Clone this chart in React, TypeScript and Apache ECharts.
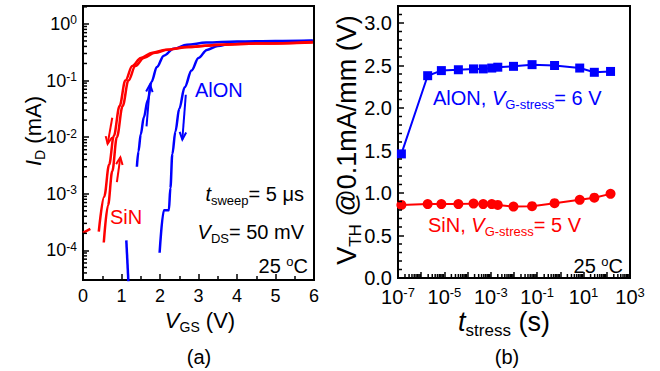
import React, { useEffect, useRef } from 'react';
import * as echarts from 'echarts';

const FONT = 'Liberation Sans, Arial, Helvetica, sans-serif';
const SERIF = 'Liberation Serif, Times New Roman, serif';
const RED = '#ff0000';
const BLUE = '#0000ff';
const BLACK = '#000000';

// ---------- Panel (a): I_D – V_GS ----------
const vgsRange = [0, 6];
const idRange = [3.0e-5, 2.07]; // mA (log axis limits)

// SiN, two sweeps
const sinSweep1V = [0.41, 0.55, 0.68, 0.8, 0.95, 1.1, 1.28, 1.5, 1.8, 2.15, 2.7, 3.6, 4.6, 5.97];
const sinSweep1I = [2.14e-4, 8.9e-4, 3.3e-3, 1.05e-2, 3.55e-2, 0.1, 0.18, 0.25, 0.31, 0.35, 0.39, 0.43, 0.45, 0.47];
const sinSweep2V = [0.54, 0.65, 0.76, 0.88, 1.03, 1.18, 1.36, 1.58, 1.87, 2.2, 2.75, 3.6, 4.6, 5.97];
const sinSweep2I = [1.38e-4, 6.3e-4, 2.5e-3, 1.0e-2, 3.55e-2, 0.1, 0.18, 0.25, 0.31, 0.35, 0.39, 0.43, 0.45, 0.48];
const sinTailV = [0.0, 0.19];
const sinTailI = [2.04e-4, 2.4e-4];

// AlON, up and down sweeps
const alonUpV = [1.4, 1.44, 1.5, 1.58, 1.68, 1.78, 1.92, 2.1, 2.35, 2.7, 3.2, 4.0, 5.0, 5.97];
const alonUpI = [3.0e-3, 5.6e-3, 1.12e-2, 2.24e-2, 4.47e-2, 9.5e-2, 0.174, 0.275, 0.363, 0.427, 0.468, 0.49, 0.5, 0.51];
const alonDownV = [1.99, 2.1, 2.23, 2.27, 2.32, 2.4, 2.5, 2.64, 2.82, 3.0, 3.22, 3.5, 3.85, 4.5, 5.2, 5.97];
const alonDownI = [9.1e-5, 5.1e-4, 5.1e-4, 1.26e-3, 5.0e-3, 1.26e-2, 3.16e-2, 7.6e-2, 0.151, 0.251, 0.347, 0.407, 0.447, 0.468, 0.49, 0.5];
const alonTailV = [1.125, 1.19];
const alonTailI = [1.5e-4, 2.0e-5];

// sweep-direction arrows: [V start, V end], [I start, I end]
const sinArrowDownV = [0.76, 0.64];
const sinArrowDownI = [2.2e-2, 7.6e-3];
const sinArrowUpV = [0.88, 0.97];
const sinArrowUpI = [1.6e-3, 4.4e-3];
const alonArrowUpV = [1.65, 1.74];
const alonArrowUpI = [1.55e-2, 8.5e-2];
const alonArrowDownV = [2.67, 2.58];
const alonArrowDownI = [5.6e-2, 9.1e-3];

// ---------- Panel (b): V_TH – t_stress ----------
const tStressRange = [1e-7, 1e3];
const vthRange = [0, 3.2];
const stressTime = [1.4e-7, 1.9e-6, 7.4e-6, 4.0e-5, 1.8e-4, 4.7e-4, 1.1e-3, 2.0e-3, 9.5e-3, 6.0e-2, 0.56, 6.8, 29, 145];
const vthAlON = [1.46, 2.38, 2.44, 2.45, 2.46, 2.46, 2.47, 2.48, 2.49, 2.51, 2.5, 2.47, 2.42, 2.43];
const vthSiN = [0.86, 0.87, 0.87, 0.87, 0.875, 0.87, 0.87, 0.86, 0.84, 0.845, 0.88, 0.92, 0.945, 0.99];

const lg = (v: number) => Math.log10(v);

const logMinor = (lo: number, hi: number) => {
  const out: number[] = [];
  for (let e = Math.floor(lo) - 1; e <= Math.ceil(hi); e++) {
    for (let k = 2; k <= 9; k++) {
      const v = e + Math.log10(k);
      if (v > lo + 1e-6 && v < hi - 1e-6) out.push(v);
    }
  }
  return out;
};

const tok = (size: number, extra: any = {}) => ({ fontSize: size, fontFamily: FONT, ...extra });

const tickLine = { color: BLACK, width: 1.5 };

export default function App() {
  const ref = useRef<HTMLDivElement>(null);

  useEffect(() => {
    if (!ref.current) return;
    const chart = echarts.init(ref.current, undefined, { renderer: 'svg' });

    const aYmin = lg(idRange[0]);
    const aYmax = lg(idRange[1]);
    const bXmin = lg(tStressRange[0]);
    const bXmax = lg(tStressRange[1]);

    const curve = (v: number[], i: number[], color: string) => ({
      type: 'line',
      xAxisIndex: 0,
      yAxisIndex: 0,
      data: v.map((x, k) => [x, lg(i[k])]),
      symbol: 'none',
      showSymbol: false,
      smooth: 0.35,
      smoothMonotone: 'x',
      lineStyle: { color, width: 2.5 },
      clip: true,
      z: 3,
      silent: true,
    });

    const arrows = (list: { v: number[]; i: number[] }[], color: string) => ({
      type: 'custom',
      xAxisIndex: 0,
      yAxisIndex: 0,
      silent: true,
      z: 4,
      data: list.map((a) => [a.v[0], lg(a.i[0]), a.v[1], lg(a.i[1])]),
      renderItem: (_p: any, api: any) => {
        const p0 = api.coord([api.value(0), api.value(1)]);
        const p1 = api.coord([api.value(2), api.value(3)]);
        const ang = Math.atan2(p1[1] - p0[1], p1[0] - p0[0]);
        const L = 8;
        const w = 0.42;
        const h1 = [p1[0] - L * Math.cos(ang - w), p1[1] - L * Math.sin(ang - w)];
        const h2 = [p1[0] - L * Math.cos(ang + w), p1[1] - L * Math.sin(ang + w)];
        return {
          type: 'group',
          children: [
            { type: 'line', shape: { x1: p0[0], y1: p0[1], x2: p1[0], y2: p1[1] }, style: { stroke: color, lineWidth: 2 } },
            { type: 'polyline', shape: { points: [h1, p1, h2] }, style: { stroke: color, lineWidth: 2, fill: 'none' } },
          ],
        };
      },
    });

    const minorTicks = (xi: number, values: number[], dir: 'x' | 'y', base: number, len: number) => ({
      type: 'custom',
      xAxisIndex: xi,
      yAxisIndex: xi,
      silent: true,
      z: 5,
      data: values.map((v) => (dir === 'y' ? [base, v] : [v, base])),
      renderItem: (_p: any, api: any) => {
        const p = api.coord([api.value(0), api.value(1)]);
        const shape = dir === 'y'
          ? { x1: p[0], y1: p[1], x2: p[0] + len, y2: p[1] }
          : { x1: p[0], y1: p[1], x2: p[0], y2: p[1] - len };
        return {
          type: 'group',
          children: [{ type: 'line', shape, style: { stroke: BLACK, lineWidth: 1.5 } }],
        };
      },
    });

    const bYMinor: number[] = [];
    for (let k = 1; k <= 31; k++) if (k % 5 !== 0) bYMinor.push(k / 10);

    const powLabel = {
      b: { fontSize: 18, fontFamily: FONT, color: BLACK },
      s: { fontSize: 12, fontFamily: FONT, color: BLACK, padding: [0, 0, 7, 0] },
    };
    const powLabelB = {
      b: { fontSize: 20, fontFamily: FONT, color: BLACK },
      s: { fontSize: 13, fontFamily: FONT, color: BLACK, padding: [0, 0, 8, 0] },
    };

    const isInt = (v: number) => Math.abs(v - Math.round(v)) < 1e-6;

    const text = (x: number, y: number, str: string, rich: any, fill: string, align = 'left', rotation = 0) => ({
      type: 'text',
      x,
      y,
      rotation,
      silent: true,
      style: { text: str, rich, fill, align, verticalAlign: 'middle', fontFamily: FONT, fontSize: 20 },
    });

    const rA = {
      n: tok(20),
      i: tok(20, { fontStyle: 'italic' }),
      sub: tok(13, { padding: [13, 0, 0, 0] }),
      sup: tok(13, { padding: [0, 0, 10, 0] }),
    };
    const rT = {
      n: tok(22),
      i: tok(22, { fontStyle: 'italic' }),
      sub: tok(14, { padding: [14, 0, 0, 0] }),
    };
    const rB = {
      n: tok(27),
      i: tok(27, { fontStyle: 'italic' }),
      sub: tok(17, { padding: [17, 0, 0, 0] }),
    };

    const noLine = { show: false, onZero: false };

    chart.setOption({
      animation: false,
      backgroundColor: '#ffffff',
      grid: [
        { left: 83, top: 6, width: 231, height: 274, show: true, borderColor: BLACK, borderWidth: 2, backgroundColor: 'transparent' },
        { left: 398, top: 6, width: 232, height: 272, show: true, borderColor: BLACK, borderWidth: 2, backgroundColor: 'transparent' },
      ],
      xAxis: [
        {
          gridIndex: 0, type: 'value', min: vgsRange[0], max: vgsRange[1], interval: 1, position: 'bottom',
          axisLine: noLine,
          axisTick: { inside: true, length: 6, lineStyle: tickLine },
          minorTick: { show: true, splitNumber: 2, length: 4, lineStyle: tickLine },
          splitLine: { show: false }, minorSplitLine: { show: false },
          axisLabel: { color: BLACK, fontFamily: FONT, fontSize: 18, margin: 7 },
        },
        {
          gridIndex: 1, type: 'value', min: bXmin, max: bXmax, interval: 1, position: 'bottom',
          axisLine: noLine,
          axisTick: { inside: true, length: 6, lineStyle: tickLine },
          splitLine: { show: false },
          axisLabel: {
            margin: 8,
            formatter: (v: number) => {
              const e = Math.round(v);
              return isInt(v) && (e + 7) % 2 === 0 ? `{b|10}{s|${e}}` : '';
            },
            rich: powLabelB,
          },
        },
      ],
      yAxis: [
        {
          gridIndex: 0, type: 'value', min: aYmin, max: aYmax, position: 'left',
          axisLine: noLine,
          axisTick: { inside: true, length: 6, lineStyle: tickLine },
          splitLine: { show: false },
          axisLabel: {
            margin: 6,
            formatter: (v: number) => (isInt(v) ? `{b|10}{s|${Math.round(v) === 0 ? 0 : Math.round(v)}}` : ''),
            rich: powLabel,
          },
        },
        {
          gridIndex: 1, type: 'value', min: vthRange[0], max: vthRange[1], interval: 0.5, position: 'left',
          axisLine: noLine,
          axisTick: { inside: true, length: 6, lineStyle: tickLine },
          splitLine: { show: false },
          axisLabel: {
            color: BLACK, fontFamily: FONT, fontSize: 20, margin: 6,
            formatter: (v: number) => (isInt(v * 2) && v <= 3.0001 ? v.toFixed(1) : ''),
          },
        },
      ],
      series: [
        minorTicks(0, logMinor(aYmin, aYmax), 'y', vgsRange[0], 4),
        minorTicks(1, logMinor(bXmin, bXmax), 'x', vthRange[0], 4),
        minorTicks(1, bYMinor, 'y', bXmin, 4),
        curve(alonUpV, alonUpI, BLUE),
        curve(alonDownV, alonDownI, BLUE),
        curve(alonTailV, alonTailI, BLUE),
        curve(sinSweep1V, sinSweep1I, RED),
        curve(sinSweep2V, sinSweep2I, RED),
        curve(sinTailV, sinTailI, RED),
        arrows([{ v: sinArrowDownV, i: sinArrowDownI }, { v: sinArrowUpV, i: sinArrowUpI }], RED),
        arrows([{ v: alonArrowUpV, i: alonArrowUpI }, { v: alonArrowDownV, i: alonArrowDownI }], BLUE),
        {
          type: 'line', xAxisIndex: 1, yAxisIndex: 1, silent: true,
          data: stressTime.map((t, k) => [lg(t), vthAlON[k]]),
          symbol: 'rect', symbolSize: 9,
          lineStyle: { color: BLUE, width: 2 }, itemStyle: { color: BLUE },
        },
        {
          type: 'line', xAxisIndex: 1, yAxisIndex: 1, silent: true,
          data: stressTime.map((t, k) => [lg(t), vthSiN[k]]),
          symbol: 'circle', symbolSize: 10,
          lineStyle: { color: RED, width: 2 }, itemStyle: { color: RED },
        },
      ],
      graphic: [
        // panel (a)
        text(33, 131, '{i|I}{sub|D}{n| (mA)}', rT, BLACK, 'center', Math.PI / 2),
        text(200, 320, '{i|V}{sub|GS}{n| (V)}', rT, BLACK, 'center'),
        text(199, 357, '(a)', { n: { fontSize: 19, fontFamily: SERIF } }, BLACK, 'center'),
        text(195, 90, '{n|AlON}', rA, BLUE, 'left'),
        text(110, 217, '{n|SiN}', rA, RED, 'left'),
        text(304, 194, '{i|t}{sub|sweep}{n|= 5 μs}', rA, BLACK, 'right'),
        text(304, 232, '{i|V}{sub|DS}{n|= 50 mV}', rA, BLACK, 'right'),
        text(308, 266, '{n|25 }{sup|o}{n|C}', rA, BLACK, 'right'),
        // panel (b)
        text(347, 140, '{n|V}{sub|TH}{n| @0.1mA/mm (V)}', rB, BLACK, 'center', Math.PI / 2),
        text(504, 322, '{i|t}{sub|stress}{n| (s)}', rB, BLACK, 'center'),
        text(507, 357, '(b)', { n: { fontSize: 19, fontFamily: SERIF } }, BLACK, 'center'),
        text(433, 98, '{n|AlON, }{i|V}{sub|G-stress}{n|= 6 V}', rA, BLUE, 'left'),
        text(428, 225, '{n|SiN, }{i|V}{sub|G-stress}{n|= 5 V}', rA, RED, 'left'),
        text(623, 266, '{n|25 }{sup|o}{n|C}', rA, BLACK, 'right'),
      ],
    });

    return () => chart.dispose();
  }, []);

  return <div ref={ref} style={{ position: 'fixed', left: 0, top: 0, width: 660, height: 371 }} />;
}
